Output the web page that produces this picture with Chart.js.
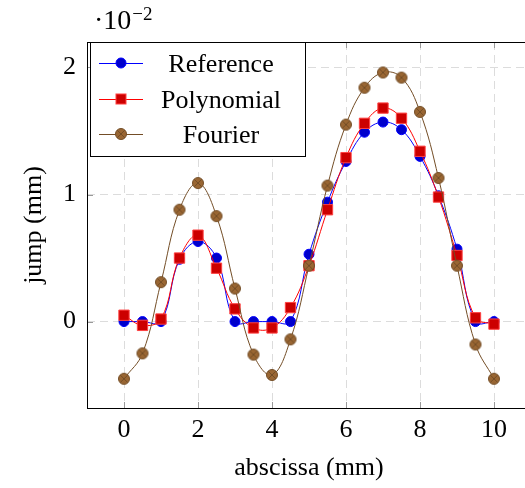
<!DOCTYPE html>
<html>
<head>
<meta charset="utf-8">
<script src="https://cdn.jsdelivr.net/npm/chart.js@4.4.0/dist/chart.umd.min.js"></script>
<style>
  html, body { margin: 0; padding: 0; background: #fff; overflow: hidden; }
  #wrap { width: 540px; height: 488px; position: relative; }
</style>
</head>
<body>
<div id="wrap"><canvas id="chart"></canvas></div>
<script>
// values in units of 1e-2 mm
const abscissa = [0, 0.5, 1, 1.5, 2, 2.5, 3, 3.5, 4, 4.5, 5, 5.5, 6, 6.5, 7, 7.5, 8, 8.5, 9, 9.5, 10];
const reference = [0, 0, 0, 0.49, 0.63, 0.5, 0, 0, 0, 0, 0.53, 0.94, 1.26, 1.49, 1.57, 1.51, 1.3, 0.99, 0.57, 0, 0];
const polynomial = [0.05, -0.03, 0.02, 0.5, 0.68, 0.42, 0.1, -0.05, -0.05, 0.11, 0.44, 0.88, 1.29, 1.56, 1.68, 1.6, 1.34, 0.98, 0.52, 0.03, -0.02];
const fourier = [-0.45, -0.25, 0.31, 0.88, 1.09, 0.83, 0.26, -0.26, -0.42, -0.14, 0.44, 1.07, 1.55, 1.84, 1.96, 1.92, 1.65, 1.13, 0.44, -0.18, -0.45];
const xTicks = [0, 2, 4, 6, 8, 10];
const yTicks = [0, 1, 2];
const seriesNames = ['Reference', 'Polynomial', 'Fourier'];

const FONT = '"Liberation Serif", "DejaVu Serif", serif';

function otimes(r, fill, edge) {
  const c = document.createElement('canvas');
  const s = Math.ceil(r * 2 + 3);
  c.width = c.height = s;
  const g = c.getContext('2d');
  const m = s / 2;
  g.beginPath();
  g.arc(m, m, r, 0, Math.PI * 2);
  g.fillStyle = fill;
  g.fill();
  g.strokeStyle = edge;
  g.lineWidth = 1;
  g.stroke();
  const d = r * Math.SQRT1_2;
  g.beginPath();
  g.moveTo(m - d, m - d); g.lineTo(m + d, m + d);
  g.moveTo(m + d, m - d); g.lineTo(m - d, m + d);
  g.stroke();
  return c;
}
const brownMark = otimes(5.5, '#996633', '#734d26');

function pts(ys) { return abscissa.map((x, i) => ({ x: x, y: ys[i] })); }

// frame, inner tick marks, scale label and legend
const decor = {
  id: 'decor',
  afterDraw(chart) {
    const ctx = chart.ctx;
    const a = chart.chartArea;
    const xs = chart.scales.x, ys = chart.scales.y;
    ctx.save();
    ctx.strokeStyle = '#999';
    ctx.lineWidth = 1;
    xTicks.forEach(v => {
      const px = Math.round(xs.getPixelForValue(v)) + 0.5;
      ctx.beginPath();
      ctx.moveTo(px, a.bottom); ctx.lineTo(px, a.bottom - 6);
      ctx.moveTo(px, a.top); ctx.lineTo(px, a.top + 6);
      ctx.stroke();
    });
    yTicks.forEach(v => {
      const py = Math.round(ys.getPixelForValue(v)) + 0.5;
      ctx.beginPath();
      ctx.moveTo(a.left, py); ctx.lineTo(a.left + 6, py);
      ctx.stroke();
    });
    ctx.strokeStyle = '#000';
    ctx.strokeRect(Math.round(a.left) + 0.5, Math.round(a.top) + 0.5, a.right - a.left, a.bottom - a.top);

    // scale factor label
    ctx.fillStyle = '#000';
    ctx.textBaseline = 'alphabetic';
    ctx.textAlign = 'left';
    ctx.font = '28px ' + FONT;
    ctx.fillText('\u00b710', 94, 29);
    const w = ctx.measureText('\u00b710').width;
    ctx.font = '19px ' + FONT;
    ctx.fillText('\u22122', 94 + w + 1, 20);

    // legend
    const bx = 90.5, by = Math.round(a.top) + 0.5, bw = 215, bh = 114;
    ctx.fillStyle = '#fff';
    ctx.fillRect(bx, by, bw, bh);
    ctx.strokeStyle = '#000';
    ctx.strokeRect(bx, by, bw, bh);
    const rows = [63, 99, 134];
    chart.data.datasets.forEach((ds, i) => {
      const y = rows[i];
      ctx.strokeStyle = ds.borderColor;
      ctx.lineWidth = 1;
      ctx.beginPath();
      ctx.moveTo(99, y + 0.5); ctx.lineTo(143, y + 0.5);
      ctx.stroke();
      if (ds.pointStyle === 'circle') {
        ctx.beginPath();
        ctx.arc(121, y, 5, 0, Math.PI * 2);
        ctx.fillStyle = ds.pointBackgroundColor;
        ctx.fill();
        ctx.strokeStyle = ds.pointBorderColor;
        ctx.stroke();
      } else if (ds.pointStyle === 'rect') {
        ctx.fillStyle = ds.pointBackgroundColor;
        ctx.fillRect(116, y - 5, 10, 10);
        ctx.strokeStyle = ds.pointBorderColor;
        ctx.strokeRect(116, y - 5, 10, 10);
      } else {
        ctx.drawImage(ds.pointStyle, 121 - ds.pointStyle.width / 2, y - ds.pointStyle.height / 2);
      }
      ctx.fillStyle = '#000';
      ctx.font = '26px ' + FONT;
      ctx.textAlign = 'center';
      ctx.fillText(ds.label, 221, y + 9);
    });
    ctx.restore();
  }
};

new Chart(document.getElementById('chart'), {
  type: 'line',
  data: {
    datasets: [
      {
        label: seriesNames[0],
        data: pts(reference),
        borderColor: '#0000ff',
        borderWidth: 1,
        pointStyle: 'circle',
        pointRadius: 5,
        pointBackgroundColor: '#0000cc',
        pointBorderColor: '#0000ff',
        pointBorderWidth: 1,
        tension: 0.4,
        order: 3
      },
      {
        label: seriesNames[1],
        data: pts(polynomial),
        borderColor: '#ff0000',
        borderWidth: 1,
        pointStyle: 'rect',
        pointRadius: 7.3,
        pointBackgroundColor: '#cc0000',
        pointBorderColor: '#ff4040',
        pointBorderWidth: 1,
        tension: 0.4,
        order: 2
      },
      {
        label: seriesNames[2],
        data: pts(fourier),
        borderColor: '#734d26',
        borderWidth: 1,
        pointStyle: brownMark,
        pointRadius: 6,
        pointBackgroundColor: '#996633',
        pointBorderColor: '#734d26',
        tension: 0.4,
        order: 1
      }
    ]
  },
  options: {
    responsive: true,
    maintainAspectRatio: false,
    animation: false,
    layout: { padding: { top: 42, right: 9, left: 0, bottom: 0 } },
    plugins: {
      legend: { display: false },
      tooltip: { enabled: false }
    },
    scales: {
      x: {
        type: 'linear',
        min: -1,
        max: 11,
        afterBuildTicks: s => { s.ticks = xTicks.map(v => ({ value: v })); },
        afterFit: s => { s.height = 80; },
        grid: { color: '#dcdcdc', drawTicks: false },
        border: { display: false, dash: [8, 5] },
        ticks: { color: '#000', padding: 7, font: { family: FONT, size: 26 } },
        title: { display: true, text: 'abscissa (mm)', color: '#000', padding: { top: 0, bottom: 4 }, font: { family: FONT, size: 26 } }
      },
      y: {
        min: -0.68,
        max: 2.2,
        afterBuildTicks: s => { s.ticks = yTicks.map(v => ({ value: v })); },
        afterFit: s => { s.width = 87; },
        grid: { color: '#dcdcdc', drawTicks: false },
        border: { display: false, dash: [8, 5] },
        ticks: { color: '#000', padding: 11, font: { family: FONT, size: 26 } },
        title: { display: true, text: 'jump (mm)', color: '#000', padding: { top: 19, bottom: 0 }, font: { family: FONT, size: 26 } }
      }
    }
  },
  plugins: [decor]
});
</script>
</body>
</html>
